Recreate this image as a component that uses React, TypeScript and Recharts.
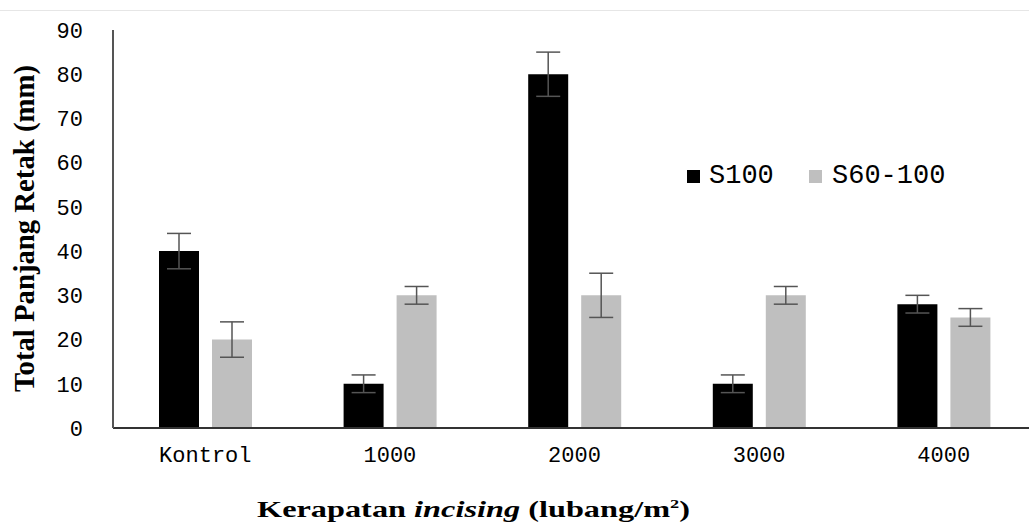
import React from 'react';
import { BarChart, Bar, XAxis, YAxis, ErrorBar, Legend } from 'recharts';

const categories = ['Kontrol', '1000', '2000', '3000', '4000'];
const s100Values = [40, 10, 80, 10, 28];
const s100Errors = [4, 2, 5, 2, 2];
const s60Values = [20, 30, 30, 30, 25];
const s60Errors = [4, 2, 5, 2, 2];
const yTicks = [0, 10, 20, 30, 40, 50, 60, 70, 80, 90];
const seriesNames = ['S100', 'S60-100'];

const data = categories.map((c, i) => ({
  category: c,
  s100: s100Values[i],
  s100Err: s100Errors[i],
  s60: s60Values[i],
  s60Err: s60Errors[i],
}));

const MONO = '"Liberation Mono", "DejaVu Sans Mono", monospace';
const SERIF = '"Liberation Serif", "DejaVu Serif", serif';

const renderLegend = () => (
  <div style={{ position: 'relative', width: 400, height: 30 }}>
    <div style={{ position: 'absolute', left: 3, top: 10, width: 13, height: 13, background: '#000' }} />
    <div style={{ position: 'absolute', left: 25, top: 0, fontFamily: MONO, fontSize: 27, lineHeight: '32px', color: '#000' }}>
      {seriesNames[0]}
    </div>
    <div style={{ position: 'absolute', left: 125, top: 10, width: 13, height: 13, background: '#bfbfbf' }} />
    <div style={{ position: 'absolute', left: 148, top: 0, fontFamily: MONO, fontSize: 27, lineHeight: '32px', color: '#000' }}>
      {seriesNames[1]}
    </div>
  </div>
);

const XLabel = () => (
  <text x={257} y={517} textLength={433} lengthAdjust="spacingAndGlyphs" fontFamily={SERIF} fontWeight="bold" fontSize={23} fill="#000">
    Kerapatan <tspan fontStyle="italic">incising</tspan> (lubang/m<tspan fontSize={13} dy={-9}>2</tspan><tspan dy={9}>)</tspan>
  </text>
);

const YLabel = () => (
  <text
    x={0}
    y={0}
    transform="translate(34,392) rotate(-90)"
    textLength={327}
    lengthAdjust="spacingAndGlyphs"
    fontFamily={SERIF}
    fontWeight="bold"
    fontSize={29}
    fill="#000"
  >
    Total Panjang Retak (mm)
  </text>
);

export default function App() {
  return (
    <div style={{ position: 'absolute', left: 0, top: 0, width: 1029, height: 528, overflow: 'hidden', background: '#fff' }}>
      <div style={{ position: 'absolute', left: 0, top: 10, width: 1029, height: 0, borderTop: '1px solid #e6e6e6' }} />
      <BarChart
        width={1040}
        height={528}
        data={data}
        margin={{ top: 30, right: 4, bottom: 0, left: 0 }}
        barSize={40}
        barGap={13}
      >
        <XAxis
          dataKey="category"
          height={100}
          axisLine={{ stroke: '#333', strokeWidth: 2 }}
          tickLine={false}
          tickSize={0}
          tickMargin={18}
          tick={{ fontFamily: MONO, fontSize: 22, fill: '#000' }}
          interval={0}
          label={<XLabel />}
        />
        <YAxis
          width={113}
          domain={[0, 90]}
          ticks={yTicks}
          interval={0}
          axisLine={{ stroke: '#555', strokeWidth: 2 }}
          tickLine={false}
          tickSize={0}
          tickMargin={30}
          tick={{ fontFamily: MONO, fontSize: 22, fill: '#000' }}
          label={<YLabel />}
        />
        <Legend
          layout="horizontal"
          verticalAlign="middle"
          align="center"
          content={renderLegend}
          wrapperStyle={{ position: 'absolute', left: 684, top: 160, width: 400, height: 30 }}
        />
        <Bar dataKey="s100" name={seriesNames[0]} fill="#000" isAnimationActive={false}>
          <ErrorBar dataKey="s100Err" width={12} stroke="#555" strokeWidth={1.5} />
        </Bar>
        <Bar dataKey="s60" name={seriesNames[1]} fill="#bfbfbf" isAnimationActive={false}>
          <ErrorBar dataKey="s60Err" width={12} stroke="#555" strokeWidth={1.5} />
        </Bar>
      </BarChart>
    </div>
  );
}
